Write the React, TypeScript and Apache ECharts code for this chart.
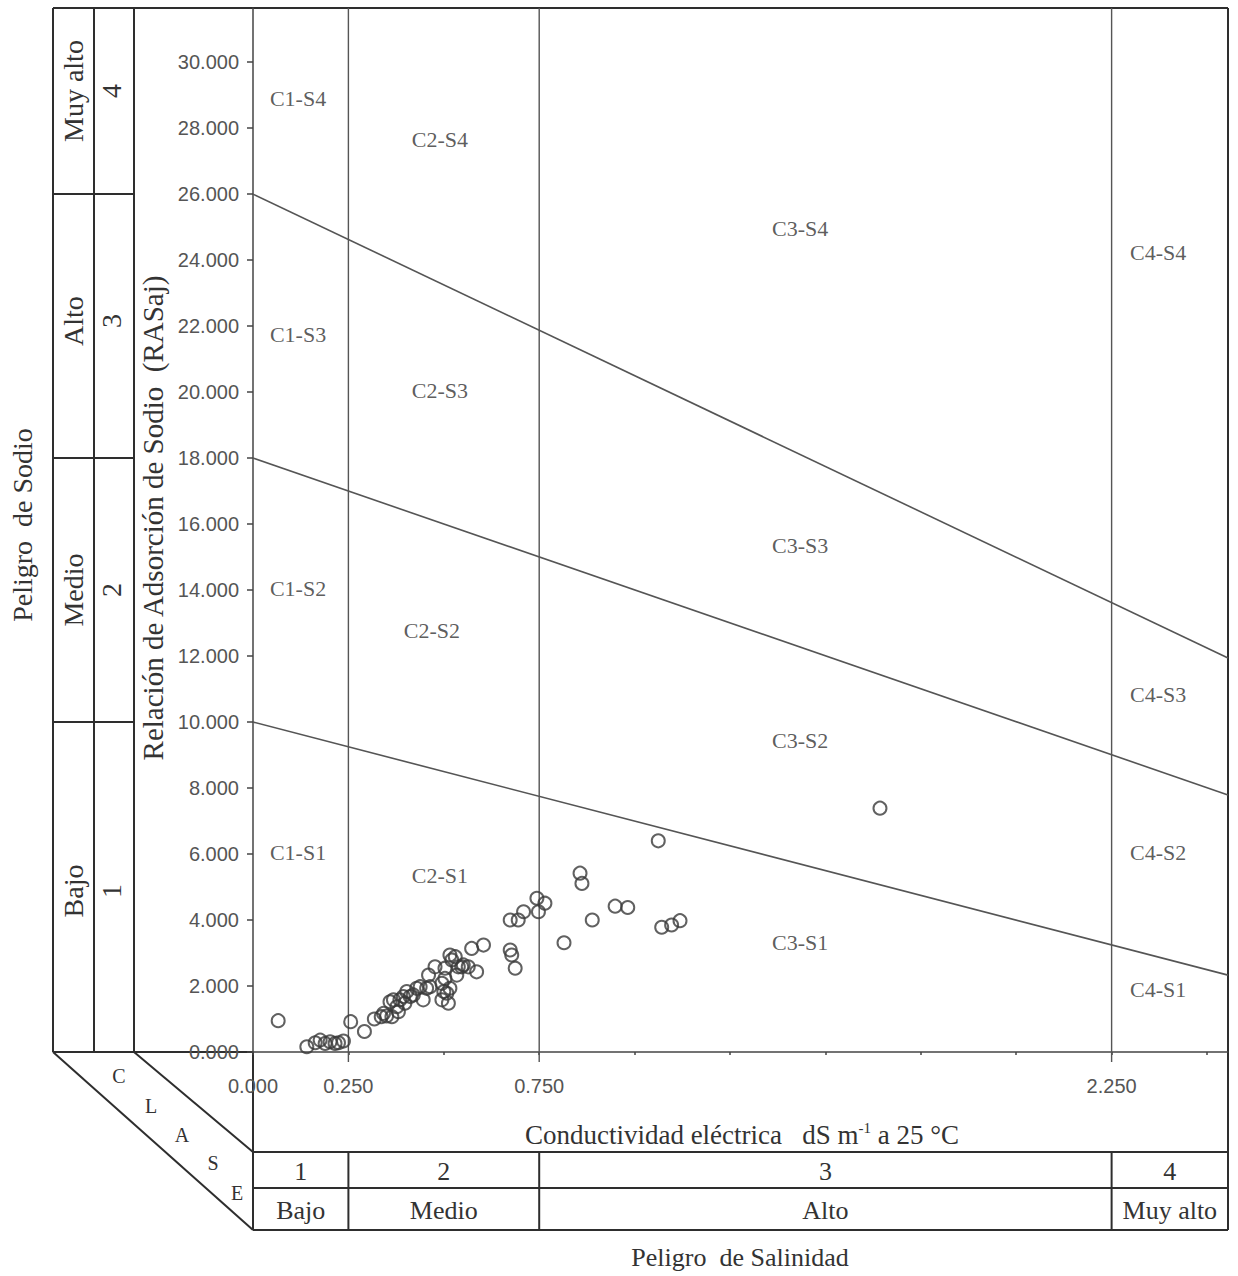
import React, { useEffect, useRef } from "react";
import * as echarts from "echarts";

// Axis extents (dS/m and RAS adjusted)
const X_MAX = 2.555;
const Y_MAX = 31.64;

// Salinity class limits (C1 | C2 | C3 | C4) and class names
const salinityLimits = [0.25, 0.75, 2.25];
const salinityClassNumbers = ["1", "2", "3", "4"];
const salinityClassNames = ["Bajo", "Medio", "Alto", "Muy alto"];

// Sodium class limits at zero conductivity and at the right edge of the plot
const sodiumIntercepts = [10, 18, 26];
const sodiumRightEnd = [2.33, 7.79, 11.94];
const sodiumClassNumbers = ["1", "2", "3", "4"];
const sodiumClassNames = ["Bajo", "Medio", "Alto", "Muy alto"];

// Labelled x ticks
const xTickLabels = [0, 0.25, 0.75, 2.25];

// Zone names and where they are written
const zoneNames = [
  "C1-S4", "C2-S4", "C3-S4", "C4-S4",
  "C1-S3", "C2-S3", "C3-S3", "C4-S3",
  "C1-S2", "C2-S2", "C3-S2", "C4-S2",
  "C1-S1", "C2-S1", "C3-S1", "C4-S1",
];
const zoneX = [
  0.118, 0.49, 1.434, 2.372,
  0.118, 0.49, 1.434, 2.372,
  0.118, 0.469, 1.434, 2.372,
  0.118, 0.49, 1.434, 2.372,
];
const zoneY = [
  28.91, 27.64, 24.97, 24.24,
  21.73, 20.06, 15.36, 10.82,
  14.06, 12.76, 9.45, 6.06,
  6.06, 5.36, 3.33, 1.88,
];

// Water samples: electrical conductivity (dS/m) and RASaj
const conductivity = [
  0.066, 0.141, 0.163, 0.176, 0.189, 0.202, 0.215, 0.224, 0.237, 0.256,
  0.292, 0.318, 0.336, 0.35, 0.364, 0.359, 0.377, 0.385, 0.394, 0.403,
  0.381, 0.398, 0.412, 0.42, 0.429, 0.438, 0.446, 0.455, 0.46, 0.477,
  0.495, 0.503, 0.495, 0.512, 0.508, 0.516, 0.521, 0.516, 0.53, 0.538,
  0.551, 0.564, 0.586, 0.534, 0.503, 0.547, 0.573, 0.604, 0.674, 0.678,
  0.687, 0.674, 0.695, 0.709, 0.744, 0.765, 0.748, 0.857, 0.862, 0.949,
  0.982, 0.889, 0.815, 1.062, 1.071, 1.097, 1.119, 1.643, 0.464, 0.368,
  0.342, 0.5,
];
const rasaj = [
  0.95, 0.16, 0.28, 0.36, 0.26, 0.31, 0.26, 0.28, 0.33, 0.92,
  0.62, 1.0, 1.07, 1.09, 1.07, 1.52, 1.37, 1.58, 1.68, 1.83,
  1.22, 1.48, 1.68, 1.73, 1.93, 1.98, 1.58, 1.93, 2.33, 2.58,
  2.08, 2.23, 1.58, 1.48, 1.78, 1.93, 2.79, 2.94, 2.89, 2.58,
  2.64, 2.58, 2.43, 2.33, 2.54, 2.58, 3.14, 3.24, 3.09, 2.94,
  2.54, 4.0, 4.0, 4.25, 4.66, 4.51, 4.25, 5.42, 5.11, 4.42,
  4.38, 4.0, 3.31, 6.4, 3.78, 3.85, 3.98, 7.39, 1.98, 1.58,
  1.17, 1.83,
];

// Page layout (pixels)
const W = 1238;
const H = 1276;
const GRID_LEFT = 253;
const GRID_TOP = 8;
const GRID_RIGHT = 1228;
const GRID_BOTTOM = 1052;
const COL_A = 53;
const COL_B = 94;
const COL_C = 134;
const ROW_TITLE = 1152;
const ROW_MID = 1188;
const ROW_END = 1230;
const TICK_DROP = 0.3; // how far the class limits run below the x axis

const SERIF = "'Liberation Serif', 'Times New Roman', serif";
const SANS = "'Liberation Sans', Arial, sans-serif";
const FRAME = "#2e2e2e";
const INK = "#333";
const THIN = "#555";

export default function App() {
  const ref = useRef<HTMLDivElement>(null);

  useEffect(() => {
    if (!ref.current) return;
    const chart = echarts.init(ref.current, undefined, { renderer: "svg" });

    const samples = conductivity.map((c, i) => [c, rasaj[i]]);
    const zones = zoneNames.map((n, i) => ({ name: n, value: [zoneX[i], zoneY[i]] }));

    const option: any = {
      animation: false,
      backgroundColor: "#ffffff",
      grid: {
        left: GRID_LEFT,
        top: GRID_TOP,
        width: GRID_RIGHT - GRID_LEFT,
        height: GRID_BOTTOM - GRID_TOP,
        containLabel: false,
        outerBoundsMode: "none",
      },
      xAxis: {
        type: "value",
        min: 0,
        max: X_MAX,
        interval: 0.25,
        axisLine: { show: true, onZero: false, lineStyle: { color: "#444", width: 1.5 } },
        axisTick: { show: true, length: 3, lineStyle: { color: "#444", width: 1.5 } },
        splitLine: { show: false },
        axisLabel: {
          margin: 24,
          color: "#555",
          fontSize: 20,
          fontFamily: SANS,
          showMaxLabel: false,
          formatter: (v: number) =>
            xTickLabels.some((t) => Math.abs(t - v) < 1e-6) ? v.toFixed(3) : "",
        },
      },
      yAxis: {
        type: "value",
        min: 0,
        max: Y_MAX,
        interval: 2,
        axisLine: { show: true, onZero: false, lineStyle: { color: "#444", width: 1.5 } },
        axisTick: { show: true, length: 6, lineStyle: { color: "#444", width: 1.5 } },
        splitLine: { show: false },
        axisLabel: {
          margin: 14,
          color: "#555",
          fontSize: 20,
          fontFamily: SANS,
          showMaxLabel: false,
          formatter: (v: number) => (Math.abs(v % 2) < 1e-6 ? v.toFixed(3) : ""),
        },
      },
      series: [
        ...salinityLimits.map((lim, i) => ({
          id: "salinity-limit-" + i,
          type: "line",
          data: [[lim, -TICK_DROP], [lim, Y_MAX]],
          symbol: "none",
          clip: false,
          silent: true,
          lineStyle: { color: THIN, width: 1.4 },
        })),
        ...sodiumIntercepts.map((b, i) => ({
          id: "sodium-limit-" + i,
          type: "line",
          data: [[0, b], [X_MAX, sodiumRightEnd[i]]],
          symbol: "none",
          silent: true,
          lineStyle: { color: THIN, width: 1.6 },
        })),
        {
          id: "samples",
          type: "scatter",
          data: samples,
          symbol: "circle",
          symbolSize: 13,
          itemStyle: { color: "rgba(255,255,255,0)", borderColor: "#3a3a3a", borderWidth: 2 },
          z: 5,
        },
        {
          id: "zones",
          type: "scatter",
          data: zones,
          symbolSize: 1,
          itemStyle: { color: "rgba(0,0,0,0)" },
          silent: true,
          label: {
            show: true,
            position: "inside",
            formatter: (p: any) => p.name,
            fontFamily: SERIF,
            fontSize: 22,
            color: INK,
          },
        },
      ],
    };

    chart.setOption(option);

    const px = (x: number, y: number) =>
      chart.convertToPixel({ gridIndex: 0 }, [x, y]) as number[];

    const line = (x1: number, y1: number, x2: number, y2: number, w = 2, c = FRAME) => ({
      type: "line",
      silent: true,
      shape: { x1, y1, x2, y2 },
      style: { stroke: c, lineWidth: w },
    });
    const text = (t: string, x: number, y: number, size: number, rot = 0) => ({
      type: "text",
      silent: true,
      x,
      y,
      rotation: rot,
      style: {
        text: t,
        fontFamily: SERIF,
        fontSize: size,
        fill: INK,
        align: "center",
        verticalAlign: "middle",
      },
    });

    const els: any[] = [];

    // outer frame
    els.push(line(COL_A, GRID_TOP, GRID_RIGHT, GRID_TOP));
    els.push(line(GRID_RIGHT, GRID_TOP, GRID_RIGHT, ROW_END));

    // sodium class columns on the left
    [COL_A, COL_B, COL_C].forEach((x) => els.push(line(x, GRID_TOP, x, GRID_BOTTOM)));
    els.push(line(COL_A, GRID_BOTTOM, GRID_LEFT, GRID_BOTTOM));
    const sodiumBounds = [0, ...sodiumIntercepts, Y_MAX];
    sodiumIntercepts.forEach((b) => {
      const y = px(0, b)[1];
      els.push(line(COL_A, y, COL_C, y));
    });
    const rowShift = [4, 0, -5, -10];
    for (let i = 0; i < sodiumClassNames.length; i++) {
      const yc =
        (px(0, sodiumBounds[i])[1] + px(0, sodiumBounds[i + 1])[1]) / 2 + rowShift[i];
      els.push(text(sodiumClassNames[i], (COL_A + COL_B) / 2, yc, 28, Math.PI / 2));
      els.push(text(sodiumClassNumbers[i], (COL_B + COL_C) / 2 - 3, yc, 28, Math.PI / 2));
    }
    els.push(text("Peligro  de Sodio", 22, 525, 28, Math.PI / 2));

    // y axis title
    els.push(text("Relación de Adsorción de Sodio  (RASaj)", 153, 518, 29, Math.PI / 2));

    // slanted "CLASE" band
    els.push(line(COL_A, GRID_BOTTOM, GRID_LEFT, ROW_END));
    els.push(line(COL_C, GRID_BOTTOM, GRID_LEFT, ROW_TITLE));
    const claseLetters = ["C", "L", "A", "S", "E"];
    const claseX = [119, 151, 182, 213, 237];
    const claseY = [1076, 1106, 1135, 1163, 1193];
    claseLetters.forEach((l, i) => els.push(text(l, claseX[i], claseY[i], 20)));

    // salinity class table under the plot
    els.push(line(GRID_LEFT, GRID_BOTTOM, GRID_LEFT, ROW_END));
    [ROW_TITLE, ROW_MID, ROW_END].forEach((y) => els.push(line(GRID_LEFT, y, GRID_RIGHT, y)));
    salinityLimits.forEach((lim) => {
      const x = px(lim, 0)[0];
      els.push(line(x, ROW_TITLE, x, ROW_END));
    });
    const salBounds = [0, ...salinityLimits, X_MAX];
    for (let i = 0; i < salinityClassNames.length; i++) {
      const xc = (px(salBounds[i], 0)[0] + px(salBounds[i + 1], 0)[0]) / 2;
      els.push(text(salinityClassNumbers[i], xc, (ROW_TITLE + ROW_MID) / 2 + 1, 26));
      els.push(text(salinityClassNames[i], xc, (ROW_MID + ROW_END) / 2 + 1, 26));
    }

    // x axis title with superscript unit
    els.push({
      type: "text",
      silent: true,
      x: 742,
      y: 1135,
      style: {
        text: "{a|Conductividad eléctrica   dS m}{s|-1}{a| a 25 °C}",
        align: "center",
        verticalAlign: "middle",
        rich: {
          a: { fontFamily: SERIF, fontSize: 27, fill: INK, color: INK, lineHeight: 30 },
          s: {
            fontFamily: SERIF,
            fontSize: 15,
            fill: INK,
            color: INK,
            lineHeight: 30,
            verticalAlign: "top",
            padding: [0, 0, 12, 0],
          },
        },
      },
    });
    els.push(text("Peligro  de Salinidad", 740, 1257, 26));

    chart.setOption({ graphic: { elements: els } });

    return () => chart.dispose();
  }, []);

  return (
    <div
      ref={ref}
      style={{ position: "absolute", left: 0, top: 0, width: W, height: H, background: "#fff" }}
    />
  );
}
